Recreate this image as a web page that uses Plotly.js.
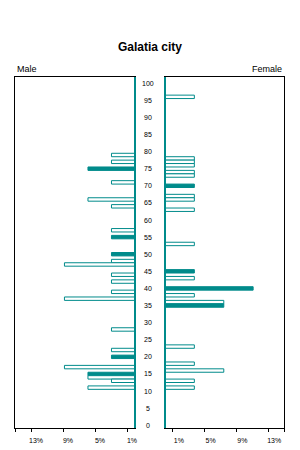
<!DOCTYPE html>
<html>
<head>
<meta charset="utf-8">
<script src="https://cdn.plot.ly/plotly-3.0.1.min.js"></script>
<style>html,body{margin:0;padding:0;background:#fff;}#chart{width:300px;height:450px;}</style>
</head>
<body>
<div id="chart"></div>
<script>
// Data (percent of each sex's population, single years of age)
const chartTitle = "Galatia city";
const maleLabel = "Male";
const femaleLabel = "Female";
const maleAges = [79,77,75,71,66,64,57,55,50,48,47,44,42,39,37,28,22,20,17,15,14,13,11];
const malePct  = [2.94,2.94,5.88,2.94,5.88,2.94,2.94,2.94,2.94,2.94,8.82,2.94,2.94,2.94,8.82,2.94,2.94,2.94,8.82,5.88,5.88,2.94,5.88];
const femaleAges = [96,78,77,76,74,73,70,67,66,63,53,45,43,40,38,36,35,23,18,16,13,11];
const femalePct  = [3.70,3.70,3.70,3.70,3.70,3.70,3.70,3.70,3.70,3.70,3.70,3.70,3.70,11.11,3.70,7.41,7.41,3.70,3.70,7.41,3.70,3.70];
const pctTickVals = [1,5,9,13,15];
const pctTickText = ["1%","5%","9%","13%",""];
const ageTicks = [0,5,10,15,20,25,30,35,40,45,50,55,60,65,70,75,80,85,90,95,100];

const TEAL = '#008B8B';
const FONT = 'Liberation Sans, Arial, sans-serif';
const fillFor = ages => ages.map(a => (a % 5 === 0 ? TEAL : '#ffffff'));

const traces = [
  {type:'bar', orientation:'h', x: malePct, y: maleAges, xaxis:'x', yaxis:'y',
   marker:{color: fillFor(maleAges), line:{color:TEAL, width:1}}, width:1, hoverinfo:'none'},
  {type:'bar', orientation:'h', x: femalePct, y: femaleAges, xaxis:'x2', yaxis:'y2',
   marker:{color: fillFor(femaleAges), line:{color:TEAL, width:1}}, width:1, hoverinfo:'none'}
];

const yDom = [1 - 428/450, 1 - 77/450];
const xCommon = {
  showgrid:false, zeroline:false, showline:true, linecolor:'#000', linewidth:1, mirror:true,
  ticks:'outside', ticklen:3, tickcolor:'#000', tickvals:pctTickVals, ticktext:pctTickText,
  ticklabelstandoff:3,
  tickfont:{family:FONT, size:7, color:'#000'}, fixedrange:true
};
const yCommon = {
  range:[-0.8, 101.8], domain:yDom, showgrid:false, zeroline:false, showticklabels:false,
  showline:true, linecolor:'#000', linewidth:1, mirror:true, ticks:'', fixedrange:true
};

const annotations = ageTicks.map(a => ({
  text: String(a), xref:'paper', yref:'y', x: 148/300, y: a, xanchor:'center', yanchor:'middle',
  showarrow:false, font:{family:FONT, size:7, color:'#000'}
}));
annotations.push({text:maleLabel, xref:'paper', yref:'paper', x:15/300, y:1-69/450, xanchor:'left', yanchor:'middle',
  showarrow:false, font:{family:FONT, size:9, color:'#000'}});
annotations.push({text:femaleLabel, xref:'paper', yref:'paper', x:284/300, y:1-69/450, xanchor:'right', yanchor:'middle',
  showarrow:false, font:{family:FONT, size:9, color:'#000'}});

const layout = {
  width:300, height:450, margin:{l:0,r:0,t:0,b:0}, paper_bgcolor:'#fff', plot_bgcolor:'#fff',
  showlegend:false, bargap:0,
  title:{text:'<b>'+chartTitle+'</b>', x:0.5, xanchor:'center', y:1-47/450, yanchor:'middle',
    font:{family:FONT, size:12, color:'#000'}},
  xaxis: Object.assign({}, xCommon, {domain:[15/300, 135/300], range:[15, 0], anchor:'y', ticklabelshift:-5}),
  xaxis2: Object.assign({}, xCommon, {domain:[165/300, 284/300], range:[0, 15], anchor:'y2', ticklabelshift:6}),
  yaxis: Object.assign({}, yCommon, {anchor:'x'}),
  yaxis2: Object.assign({}, yCommon, {anchor:'x2', matches:'y'}),
  annotations: annotations,
  shapes: [
    {type:'line', xref:'x domain', yref:'y domain', x0:1, x1:1, y0:0, y1:1, line:{color:TEAL, width:2}},
    {type:'line', xref:'x2 domain', yref:'y2 domain', x0:0, x1:0, y0:0, y1:1, line:{color:TEAL, width:2}}
  ]
};

Plotly.newPlot('chart', traces, layout, {staticPlot:true, displayModeBar:false});
</script>
</body>
</html>
